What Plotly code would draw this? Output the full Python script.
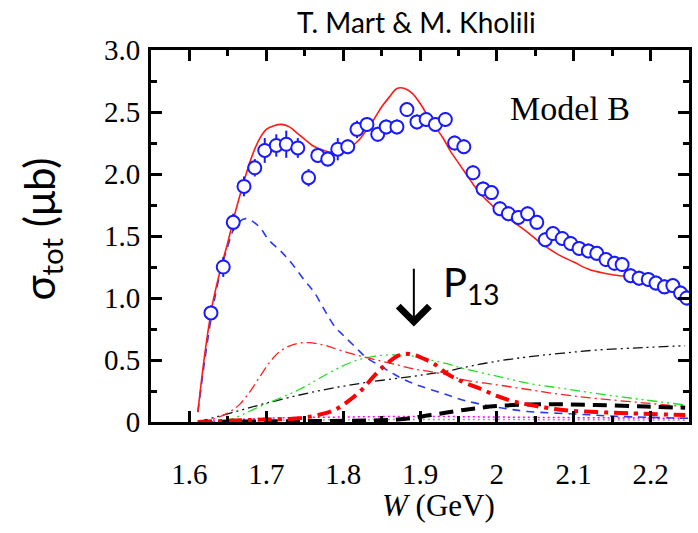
import plotly.graph_objects as go

# ---- experimental data (W in GeV, sigma_tot in microbarn) ----
W_data = [1.628, 1.644, 1.657, 1.671, 1.685, 1.698, 1.713, 1.726, 1.741, 1.755,
          1.767, 1.780, 1.793, 1.806, 1.818, 1.831, 1.845, 1.856, 1.870, 1.883,
          1.896, 1.908, 1.920, 1.933, 1.945, 1.957, 1.969, 1.982, 1.993, 2.004,
          2.015, 2.028, 2.040, 2.052, 2.063, 2.073, 2.085, 2.096, 2.107, 2.119,
          2.130, 2.142, 2.153, 2.163, 2.174, 2.185, 2.197, 2.207, 2.218, 2.229,
          2.239, 2.247]
sigma_data = [0.88, 1.25, 1.61, 1.90, 2.05, 2.19, 2.23, 2.24, 2.21, 1.97,
              2.15, 2.12, 2.20, 2.22, 2.36, 2.40, 2.32, 2.38, 2.38, 2.52,
              2.42, 2.44, 2.40, 2.44, 2.25, 2.22, 2.01, 1.88, 1.85, 1.72,
              1.68, 1.65, 1.68, 1.61, 1.47, 1.52, 1.48, 1.44, 1.40, 1.38,
              1.36, 1.31, 1.28, 1.27, 1.18, 1.16, 1.15, 1.12, 1.09, 1.10,
              1.04, 1.00]
sigma_err = [0.06, 0.08, 0.07, 0.08, 0.07, 0.10, 0.09, 0.11, 0.08, 0.07,
             0.06, 0.06, 0.09, 0.06, 0.07, 0.06, 0.06, 0.06, 0.06, 0.06,
             0.06, 0.06, 0.06, 0.06, 0.06, 0.06, 0.06, 0.06, 0.06, 0.06,
             0.06, 0.06, 0.06, 0.06, 0.06, 0.06, 0.06, 0.06, 0.06, 0.06,
             0.06, 0.06, 0.06, 0.06, 0.06, 0.06, 0.06, 0.06, 0.06, 0.06,
             0.06, 0.06]

# ---- model curves ----
W_total = [1.611, 1.62, 1.63, 1.64, 1.65, 1.66, 1.67, 1.68, 1.69, 1.70, 1.71, 1.72,
           1.73, 1.74, 1.75, 1.76, 1.77, 1.78, 1.79, 1.80, 1.81, 1.82, 1.83, 1.84,
           1.85, 1.86, 1.87, 1.88, 1.89, 1.90, 1.91, 1.92, 1.93, 1.94, 1.95, 1.96,
           1.97, 1.98, 1.99, 2.00, 2.02, 2.04, 2.06, 2.08, 2.10, 2.12, 2.14, 2.16,
           2.18, 2.20, 2.22, 2.25]
sig_total = [0.08, 0.55, 0.95, 1.22, 1.45, 1.70, 1.92, 2.12, 2.27, 2.36, 2.39, 2.40,
             2.38, 2.33, 2.28, 2.23, 2.20, 2.18, 2.18, 2.20, 2.22, 2.27, 2.35, 2.44,
             2.54, 2.62, 2.69, 2.69, 2.65, 2.57, 2.47, 2.38, 2.29, 2.18, 2.09, 2.00,
             1.91, 1.83, 1.77, 1.71, 1.62, 1.53, 1.43, 1.35, 1.29, 1.23, 1.20, 1.18,
             1.17, 1.14, 1.10, 1.05]

W_bg = [1.611, 1.62, 1.63, 1.64, 1.65, 1.66, 1.673, 1.69, 1.703, 1.72, 1.733, 1.75,
        1.763, 1.776, 1.789, 1.80, 1.815, 1.83, 1.849, 1.865, 1.88, 1.90, 1.93,
        1.96, 2.00, 2.04, 2.10, 2.16, 2.25]
sig_bg = [0.08, 0.50, 0.90, 1.20, 1.42, 1.58, 1.64, 1.58, 1.47, 1.37, 1.28, 1.14,
          1.04, 0.90, 0.77, 0.70, 0.61, 0.52, 0.45, 0.39, 0.34, 0.29, 0.23,
          0.17, 0.12, 0.085, 0.065, 0.045, 0.03]

W_s11 = [1.613, 1.63, 1.652, 1.665, 1.677, 1.69, 1.703, 1.716, 1.729, 1.742, 1.755,
         1.768, 1.781, 1.80, 1.824, 1.85, 1.871, 1.89, 1.91, 1.935, 1.957, 2.00,
         2.043, 2.086, 2.129, 2.19, 2.245]
sig_s11 = [0.0, 0.02, 0.08, 0.14, 0.23, 0.35, 0.47, 0.56, 0.61, 0.635, 0.64,
           0.63, 0.61, 0.57, 0.53, 0.49, 0.46, 0.43, 0.41, 0.38, 0.34, 0.30,
           0.26, 0.22, 0.19, 0.155, 0.124]

W_green = [1.611, 1.652, 1.69, 1.742, 1.789, 1.81, 1.824, 1.84, 1.858, 1.875, 1.893,
           1.914, 1.935, 1.957, 2.00, 2.043, 2.086, 2.129, 2.19, 2.245]
sig_green = [0.0, 0.02, 0.12, 0.26, 0.42, 0.48, 0.51, 0.53, 0.54, 0.54, 0.53,
             0.50, 0.47, 0.43, 0.37, 0.31, 0.27, 0.23, 0.18, 0.137]

W_black = [1.611, 1.652, 1.699, 1.763, 1.828, 1.893, 1.914, 1.935, 1.957, 2.0,
           2.043, 2.086, 2.129, 2.19, 2.245]
sig_black = [0.0, 0.07, 0.15, 0.245, 0.317, 0.37, 0.39, 0.41, 0.44, 0.49,
             0.527, 0.555, 0.58, 0.60, 0.615]

W_p13 = [1.611, 1.677, 1.742, 1.77, 1.789, 1.805, 1.824, 1.84, 1.855, 1.87, 1.88,
         1.893, 1.905, 1.918, 1.935, 1.957, 1.978, 2.0, 2.022, 2.05, 2.086, 2.13,
         2.172, 2.245]
sig_p13 = [0.0, 0.016, 0.03, 0.06, 0.097, 0.16, 0.258, 0.37, 0.46, 0.53, 0.55,
           0.54, 0.51, 0.47, 0.39, 0.32, 0.27, 0.21, 0.165, 0.13, 0.097, 0.08,
           0.07, 0.056]

W_bkdash = [1.611, 1.70, 1.80, 1.871, 1.914, 1.957, 2.0, 2.065, 2.129, 2.194, 2.245]
sig_bkdash = [0.0, 0.005, 0.01, 0.02, 0.056, 0.097, 0.129, 0.143, 0.137, 0.124, 0.115]

W_small = [1.611, 1.70, 1.80, 1.90, 2.00, 2.10, 2.245]
sig_mag = [0.0, 0.03, 0.04, 0.045, 0.04, 0.035, 0.03]
sig_grey = [0.0, 0.012, 0.018, 0.02, 0.02, 0.018, 0.015]

x_ticks = [1.6, 1.7, 1.8, 1.9, 2.0, 2.1, 2.2]
x_ticktext = ["1.6", "1.7", "1.8", "1.9", "2", "2.1", "2.2"]
x_minor = [1.65, 1.75, 1.85, 1.95, 2.05, 2.15]
y_ticks = [0, 0.5, 1.0, 1.5, 2.0, 2.5, 3.0]
y_ticktext = ["0", "0.5", "1.0", "1.5", "2.0", "2.5", "3.0"]
y_minor = [0.25, 0.75, 1.25, 1.75, 2.25, 2.75]

X_RANGE = [1.55, 2.25]
Y_RANGE = [0, 3.0]

fig = go.Figure()

def curve(x, y, color, width, dash):
    fig.add_trace(go.Scatter(x=x, y=y, mode="lines", line_shape="spline",
                             line=dict(color=color, width=width, dash=dash),
                             hoverinfo="skip", showlegend=False))

curve(W_small, sig_grey, "#999999", 1.5, "2px,3px")
curve(W_small, sig_mag, "#ff00ff", 1.5, "2px,3px")
curve(W_black, sig_black, "#111111", 1.3, "10px,4px,2px,4px,2px,4px")
curve(W_green, sig_green, "#22dd22", 1.3, "10px,4px,2px,4px,2px,4px")
curve(W_s11, sig_s11, "#ff2020", 1.3, "10px,4px,2px,4px")
curve(W_bg, sig_bg, "#2a3cf0", 1.6, "8px,6px")
curve(W_bkdash, sig_bkdash, "#000000", 4, "14px,8px")
curve(W_p13, sig_p13, "#ff0000", 4, "14px,6px,4px,6px")
curve(W_total, sig_total, "#ff1a1a", 1.6, "solid")

fig.add_trace(go.Scatter(
    x=W_data, y=sigma_data, mode="markers",
    marker=dict(symbol="circle", size=13, color="white",
                line=dict(width=2, color="#1a1aff")),
    error_y=dict(type="data", array=sigma_err, color="#1a1aff", thickness=2, width=0),
    showlegend=False, hoverinfo="skip"))

axis_common = dict(showline=True, linewidth=3, linecolor="black", mirror="allticks",
                   ticks="inside", ticklen=11, tickwidth=2.5, tickcolor="black",
                   showgrid=False, zeroline=False,
                   tickfont=dict(family="Liberation Serif", size=29, color="black"))

fig.update_layout(
    xaxis=dict(range=X_RANGE, tickmode="array", tickvals=x_ticks, ticktext=x_ticktext,
               ticklabelstandoff=24, **axis_common),
    yaxis=dict(range=Y_RANGE, tickmode="array", tickvals=y_ticks, ticktext=y_ticktext,
               ticklabelstandoff=2, **axis_common),
    # minor tick axes (ticks only)
    xaxis2=dict(range=X_RANGE, overlaying="x", side="bottom", tickmode="array",
                tickvals=x_minor, showticklabels=False, ticks="inside", ticklen=6,
                tickwidth=2.5, tickcolor="black", mirror="allticks", showline=False,
                showgrid=False, zeroline=False, anchor="y"),
    yaxis2=dict(range=Y_RANGE, overlaying="y", side="left", tickmode="array",
                tickvals=y_minor, showticklabels=False, ticks="inside", ticklen=6,
                tickwidth=2.5, tickcolor="black", mirror="allticks", showline=False,
                showgrid=False, zeroline=False, anchor="x"),
)
# invisible trace to activate minor-tick axes
fig.add_trace(go.Scatter(x=[X_RANGE[0]], y=[Y_RANGE[0]], xaxis="x2", yaxis="y2",
                         mode="markers", marker=dict(opacity=0), showlegend=False,
                         hoverinfo="skip"))

W, H = 698, 533
L, R, T, B = 151, 6, 50, 111
pw, ph = W - L - R, H - T - B

def px_x(p):
    return (p - L) / pw

def px_y(p):
    return (H - B - p) / ph

annotations = [
    dict(text="T. Mart &amp; M. Kholili", x=px_x(418), y=px_y(22), xref="paper", yref="paper",
         xanchor="center", yanchor="middle",
         showarrow=False, font=dict(family="Lato", size=28, color="black")),
    dict(text="Model B", x=px_x(572), y=px_y(108), xref="paper", yref="paper",
         xanchor="center", yanchor="middle",
         showarrow=False, font=dict(family="Liberation Serif", size=34, color="black")),
    dict(text="P<sub>13</sub>", x=px_x(443), y=px_y(284), xref="paper", yref="paper",
         xanchor="left", yanchor="middle",
         showarrow=False, font=dict(family="Lato", size=40, color="black")),
    dict(text="σ<sub>tot</sub> (μb)", x=px_x(41), y=px_y(229), xref="paper", yref="paper",
         xanchor="center", yanchor="middle", textangle=-90, showarrow=False,
         font=dict(family="Lato", size=42, color="black")),
    dict(text="<i>W</i> (GeV)", x=px_x(440), y=px_y(505), xref="paper", yref="paper",
         xanchor="center", yanchor="middle",
         showarrow=False, font=dict(family="Liberation Serif", size=31, color="black")),
    dict(x=1.892, y=0.77, ax=1.892, ay=1.24, xref="x", yref="y", axref="x", ayref="y",
         text="", showarrow=True, arrowhead=4, arrowsize=3, arrowwidth=2,
         arrowcolor="black", font=dict(size=1), borderpad=0),
]

fig.update_layout(width=W, height=H, margin=dict(l=L, r=R, t=T, b=B),
                  paper_bgcolor="white", plot_bgcolor="white",
                  annotations=annotations, showlegend=False)

fig.write_html("out.html")
